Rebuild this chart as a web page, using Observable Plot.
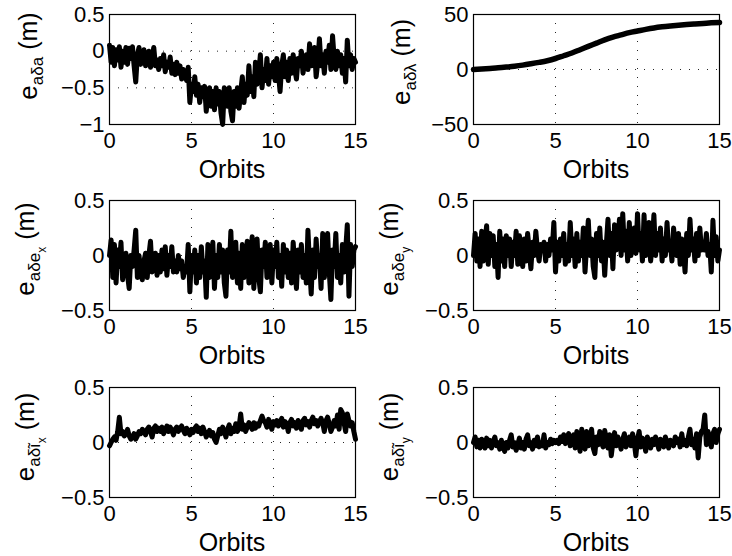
<!DOCTYPE html>
<html>
<head>
<meta charset="utf-8">
<script src="https://cdn.jsdelivr.net/npm/d3@7"></script>
<script src="https://cdn.jsdelivr.net/npm/@observablehq/plot@0.6"></script>
<style>
  html, body { margin: 0; padding: 0; background: #fff; }
  #chart { position: relative; width: 732px; height: 556px; overflow: hidden; background: #fff; }
  #chart svg { position: absolute; }
</style>
</head>
<body>
<div id="chart"></div>
<script>
// ---------- data ----------
const xTicks = [0, 5, 10, 15];
const sampleStep = 0.1;          // orbits between samples of the noisy series
const xLabel = "Orbits";
const unitLabel = "(m)";

// e_aδa  (samples every 0.1 orbit, 0 .. 15)
const eDa = [
  0.08, -0.15, 0.05, -0.2, 0.02, -0.12, 0.06, -0.22, 0.0, -0.15, 0.05,
  -0.18, 0.04, -0.1, 0.06, -0.2, -0.42, -0.05, 0.05, -0.18, -0.08,
  0.02, -0.2, -0.1, 0.0, -0.22, -0.08, 0.05, -0.2, -0.12, -0.25,
  -0.1, -0.2, -0.05, -0.28, -0.15, -0.22, -0.08, -0.3, -0.18, -0.32,
  -0.15, -0.3, -0.2, -0.38, -0.25, -0.3, -0.4, -0.22, -0.7, -0.45,
  -0.55, -0.35, -0.6, -0.45, -0.7, -0.5, -0.62, -0.48, -0.82, -0.55,
  -0.5, -0.75, -0.55, -0.8, -0.5, -0.72, -0.55, -0.85, -1.0, -0.5,
  -0.55, -0.75, -0.5, -0.82, -0.95, -0.55, -0.75, -0.5, -0.78, -0.55,
  -0.35, -0.7, -0.45, -0.6, -0.2, -0.55, -0.35, -0.62, -0.15, -0.45,
  -0.3, -0.05, -0.5, -0.25, -0.4, -0.1, -0.45, -0.2, -0.35, -0.15,
  -0.4, -0.1, -0.3, -0.55, -0.2, -0.05, -0.35, -0.15, -0.4, -0.1,
  -0.3, -0.05, -0.25, -0.38, -0.1, -0.2, 0.0, -0.3, -0.15, -0.05,
  -0.25, 0.1, -0.2, -0.1, 0.05, -0.35, -0.15, 0.17, -0.2, -0.05,
  -0.3, 0.0, -0.15, 0.08, -0.25, 0.21, -0.1, -0.25, 0.0, -0.2,
  -0.05, -0.3, -0.1, -0.42, 0.15, -0.2, -0.05, -0.25, -0.1, -0.15
];

// e_aδλ  (smooth, every 0.5 orbit)
const eDlOrbits = [0, 0.5, 1, 1.5, 2, 2.5, 3, 3.5, 4, 4.5, 5, 5.5, 6, 6.5, 7, 7.5,
  8, 8.5, 9, 9.5, 10, 10.5, 11, 11.5, 12, 12.5, 13, 13.5, 14, 14.5, 15];
const eDl = [0, 0.5, 1, 1.5, 2.2, 3, 4, 5.2, 6.5, 8, 10, 12.5, 15, 18, 21, 24,
  27, 29.5, 31.5, 33.5, 35, 36.5, 37.8, 38.8, 39.6, 40.3, 40.9, 41.4, 41.9, 42.4, 42.8];

// e_aδex
const eDex = [
  0.0, 0.14, -0.2, 0.1, -0.25, 0.05, -0.1, 0.12, -0.22, -0.05, 0.02,
  -0.18, -0.3, 0.0, -0.1, 0.05, 0.23, -0.2, 0.0, -0.15, -0.22,
  -0.05, 0.02, -0.2, 0.0, 0.13, -0.15, -0.05, 0.02, -0.18, 0.0,
  -0.15, 0.05, -0.12, 0.08, -0.18, 0.0, -0.1, 0.08, -0.15, -0.05,
  -0.15, 0.0, -0.12, -0.05, -0.2, -0.1, -0.15, 0.1, -0.33, 0.0,
  -0.15, 0.05, -0.25, 0.0, -0.2, 0.08, -0.15, -0.05, -0.38, 0.1,
  -0.2, -0.1, 0.12, -0.3, 0.0, -0.2, 0.1, -0.15, 0.05, -0.25,
  -0.37, 0.05, -0.15, 0.22, -0.2, 0.0, 0.12, -0.25, 0.02, -0.3,
  0.1, -0.2, 0.0, 0.13, -0.25, -0.05, 0.17, -0.3, 0.0, 0.15,
  -0.2, -0.33, 0.05, -0.1, 0.12, -0.2, 0.0, 0.1, -0.25, 0.05,
  -0.1, 0.12, -0.2, 0.0, -0.28, 0.1, -0.15, 0.05, -0.2, 0.02,
  -0.25, 0.12, -0.1, -0.3, 0.05, -0.15, 0.1, -0.2, 0.0, -0.25,
  0.23, -0.1, -0.35, 0.05, -0.2, 0.15, -0.1, 0.0, -0.3, 0.2,
  -0.2, 0.0, 0.2, -0.15, -0.4, 0.05, -0.1, 0.2, -0.2, 0.0,
  -0.25, 0.1, -0.15, 0.05, 0.28, -0.37, 0.1, -0.1, 0.05, 0.08
];

// e_aδey
const eDey = [
  0.0, 0.2, -0.05, 0.15, -0.1, 0.22, -0.05, 0.12, 0.27, -0.08, 0.2,
  0.0, 0.18, -0.1, 0.1, -0.2, 0.22, -0.05, 0.15, -0.1, 0.18,
  0.0, 0.15, -0.1, 0.12, 0.0, 0.22, -0.08, 0.18, 0.05, -0.1,
  0.15, -0.05, 0.2, 0.05, -0.12, 0.12, 0.0, 0.22, 0.05, -0.05,
  0.1, 0.05, 0.12, -0.05, 0.1, 0.0, 0.15, 0.05, 0.3, -0.15,
  0.12, -0.05, 0.15, 0.0, 0.2, -0.08, 0.1, -0.05, 0.3, 0.0,
  0.15, -0.1, 0.2, -0.05, 0.12, 0.0, 0.25, -0.15, 0.1, 0.32,
  0.0, 0.15, -0.1, -0.2, 0.2, 0.0, 0.25, -0.05, 0.12, -0.18,
  0.1, 0.33, 0.0, 0.2, -0.12, 0.28, 0.05, 0.1, 0.33, 0.0,
  0.38, 0.05, 0.22, -0.05, 0.3, 0.0, 0.15, 0.25, 0.02, 0.38,
  0.05, 0.2, -0.05, 0.37, 0.0, 0.15, 0.3, -0.05, 0.1, 0.37,
  0.0, 0.2, 0.05, 0.25, -0.05, 0.15, 0.0, 0.3, 0.05, 0.12,
  -0.05, 0.25, 0.05, 0.0, 0.2, -0.08, 0.15, 0.05, -0.15, 0.2,
  0.0, 0.33, 0.05, 0.15, -0.05, 0.2, 0.0, 0.25, 0.05, 0.1,
  0.05, 0.2, 0.0, 0.1, -0.15, 0.32, 0.0, 0.17, -0.05, 0.05
];

// e_aδĩx
const eDix = [
  -0.03, 0.0, 0.03, 0.05, 0.02, 0.1, 0.23, 0.08, 0.1, 0.06, 0.08,
  0.12, 0.06, 0.03, 0.05, 0.08, 0.03, 0.06, 0.1, 0.08, 0.12,
  0.1, 0.07, 0.12, 0.14, 0.1, 0.05, 0.13, 0.15, 0.1, 0.13,
  0.1, 0.14, 0.08, 0.12, 0.15, 0.1, 0.14, 0.11, 0.07, 0.12,
  0.14, 0.1, 0.13, 0.15, 0.11, 0.08, 0.13, 0.1, 0.07, 0.12,
  0.09, 0.13, 0.15, 0.1, 0.13, 0.08, 0.14, 0.1, 0.05, 0.08,
  0.11, 0.06, 0.09, 0.03, 0.0, 0.06, 0.12, 0.08, 0.14, 0.1,
  0.05, 0.12, 0.16, 0.08, 0.13, 0.1, 0.17, 0.1, 0.14, 0.26,
  0.12, 0.16, 0.1, 0.14, 0.18, 0.15, 0.12, 0.18, 0.13, 0.17,
  0.15, 0.2, 0.24, 0.2, 0.18, 0.14, 0.21, 0.17, 0.12, 0.19,
  0.16, 0.2, 0.15, 0.18, 0.22, 0.14, 0.19, 0.17, 0.1, 0.18,
  0.21, 0.15, 0.18, 0.13, 0.2, 0.17, 0.12, 0.2, 0.22, 0.16,
  0.19, 0.14, 0.2, 0.23, 0.17, 0.2, 0.15, 0.19, 0.22, 0.18,
  0.1, 0.2, 0.23, 0.17, 0.1, 0.14, 0.2, 0.15, 0.25, 0.12,
  0.3, 0.27, 0.18, 0.1, 0.26, 0.2, 0.15, 0.18, 0.1, 0.03
];

// e_aδĩy
const eDiy = [
  0.0, 0.05, -0.04, 0.02, -0.05, 0.03, 0.0, -0.05, 0.04, -0.03, 0.02,
  -0.05, 0.01, 0.05, -0.03, 0.0, -0.06, 0.02, -0.04, -0.08, 0.0,
  -0.05, 0.02, 0.07, -0.04, 0.0, -0.07, -0.02, 0.04, -0.05, 0.0,
  -0.06, 0.03, 0.07, -0.03, 0.0, -0.06, 0.02, -0.03, 0.05, -0.04,
  0.0, -0.03, 0.07, -0.05, 0.0, -0.02, 0.03, -0.01, 0.02, 0.0,
  0.02, -0.01, 0.05, 0.01, 0.07, -0.01, 0.04, 0.08, -0.03, 0.03,
  0.07, -0.05, 0.1, 0.0, -0.08, 0.12, 0.02, -0.06, 0.1, -0.03,
  0.0, 0.12, -0.05, -0.1, 0.05, -0.02, 0.1, 0.0, -0.04, 0.11,
  0.03, -0.05, 0.07, -0.12, 0.0, 0.09, -0.03, 0.05, 0.0, -0.06,
  0.03, 0.08, -0.04, 0.02, 0.05, -0.03, 0.08, 0.0, -0.12, 0.03,
  0.1, -0.04, 0.04, 0.0, -0.08, 0.05, 0.0, -0.05, 0.03, -0.02,
  0.05, 0.0, -0.06, 0.03, 0.0, -0.04, 0.05, 0.0, -0.05, 0.02,
  0.0, -0.03, 0.05, 0.0, 0.03, -0.04, 0.08, -0.02, 0.02, -0.03,
  0.05, 0.12, -0.02, 0.03, -0.05, 0.08, -0.14, 0.05, 0.1, 0.12,
  0.25, -0.02, 0.1, 0.02, -0.04, 0.08, 0.12, 0.0, 0.08, 0.12
];

const yDomainDa = [-1, 0.5], yTicksDa = [-1, -0.5, 0, 0.5];
const yDomainDl = [-50, 50], yTicksDl = [-50, 0, 50];
const yDomainSmall = [-0.5, 0.5], yTicksSmall = [-0.5, 0, 0.5];

// subscript texts of the y labels: e_{sub_{subsub}} (m)
const labelSubs    = ["aδa", "aδλ", "aδe", "aδe", "aδĩ", "aδĩ"];
const labelSubSubs = ["",    "",    "x",   "y",   "x",   "y"];

// ---------- helpers ----------
const sampled = vals => vals.map((v, i) => ({x: +(i * sampleStep).toFixed(2), y: v}));
const paired = (xs, ys) => xs.map((x, i) => ({x, y: ys[i]}));

const panels = [
  {data: sampled(eDa), dom: yDomainDa, ticks: yTicksDa, col: 0, row: 0, lx: 37, ly: 56},
  {data: paired(eDlOrbits, eDl), dom: yDomainDl, ticks: yTicksDl, col: 1, row: 0, lx: 46, ly: 62, smooth: true},
  {data: sampled(eDex), dom: yDomainSmall, ticks: yTicksSmall, col: 0, row: 1, lx: 34, ly: 63},
  {data: sampled(eDey), dom: yDomainSmall, ticks: yTicksSmall, col: 1, row: 1, lx: 34, ly: 63},
  {data: sampled(eDix), dom: yDomainSmall, ticks: yTicksSmall, col: 0, row: 2, lx: 34, ly: 64},
  {data: sampled(eDiy), dom: yDomainSmall, ticks: yTicksSmall, col: 1, row: 2, lx: 34, ly: 64}
];

const W = 366, H = 186;
const mL = 109, mR = 11, mT = 14, mB = 62;
const rowTops = [0, 186, 373];
const colLefts = [0, 364];
const FONT = "'Liberation Sans', Arial, Helvetica, sans-serif";
const fmt = d => (d < 0 ? "\u2212" + Math.abs(d) : String(d));
const container = document.getElementById("chart");

panels.forEach((p, i) => {
  const inner = p.ticks.filter(t => t > p.dom[0] && t < p.dom[1]);
  const innerX = xTicks.filter(t => t > 0 && t < 15);
  const svg = Plot.plot({
    width: W, height: H,
    marginLeft: mL, marginRight: mR, marginTop: mT, marginBottom: mB,
    style: {fontFamily: FONT, fontSize: "22px", color: "#000", background: "transparent", overflow: "visible"},
    x: {domain: [0, 15], ticks: xTicks},
    y: {domain: p.dom, ticks: p.ticks},
    marks: [
      Plot.ruleX(innerX, {stroke: "#000", strokeWidth: 1, strokeDasharray: "1,8", strokeOpacity: 0.85}),
      Plot.ruleY(inner, {stroke: "#000", strokeWidth: 1, strokeDasharray: "1,8", strokeOpacity: 0.85}),
      Plot.line(p.data, {x: "x", y: "y", stroke: "#000",
        strokeWidth: p.smooth ? 5.5 : 5, strokeLinejoin: "round", strokeLinecap: "round",
        curve: p.smooth ? "monotone-x" : "linear"}),
      Plot.frame({stroke: "#000", strokeWidth: 1.2}),
      Plot.axisX({ticks: xTicks, tickSize: 0, tickPadding: 8, tickFormat: fmt, label: null}),
      Plot.axisY({ticks: p.ticks, tickSize: 0, tickPadding: 5, tickFormat: fmt, label: null})
    ]
  });
  svg.style.left = colLefts[p.col] + "px";
  svg.style.top = rowTops[p.row] + "px";
  container.appendChild(svg);

  const s = d3.select(svg);
  // x label
  s.append("text")
    .attr("x", mL + (W - mL - mR) / 2).attr("y", 178)
    .attr("text-anchor", "middle")
    .attr("font-family", FONT).attr("font-size", 25).attr("fill", "#000")
    .text(xLabel);
  // y label with sub / sub-sub scripts
  const t = s.append("text")
    .attr("transform", `translate(${p.lx},${p.ly}) rotate(-90)`)
    .attr("text-anchor", "middle")
    .attr("font-family", FONT).attr("fill", "#000");
  t.append("tspan").attr("font-size", 26).text("e");
  t.append("tspan").attr("font-size", 17).attr("dy", 6).text(labelSubs[i]);
  let back = 6;
  if (labelSubSubs[i]) {
    t.append("tspan").attr("font-size", 12).attr("dy", 6).text(labelSubSubs[i]);
    back += 6;
  }
  t.append("tspan").attr("font-size", 25).attr("dy", -back).text("\u00a0" + unitLabel);
});
</script>
</body>
</html>
